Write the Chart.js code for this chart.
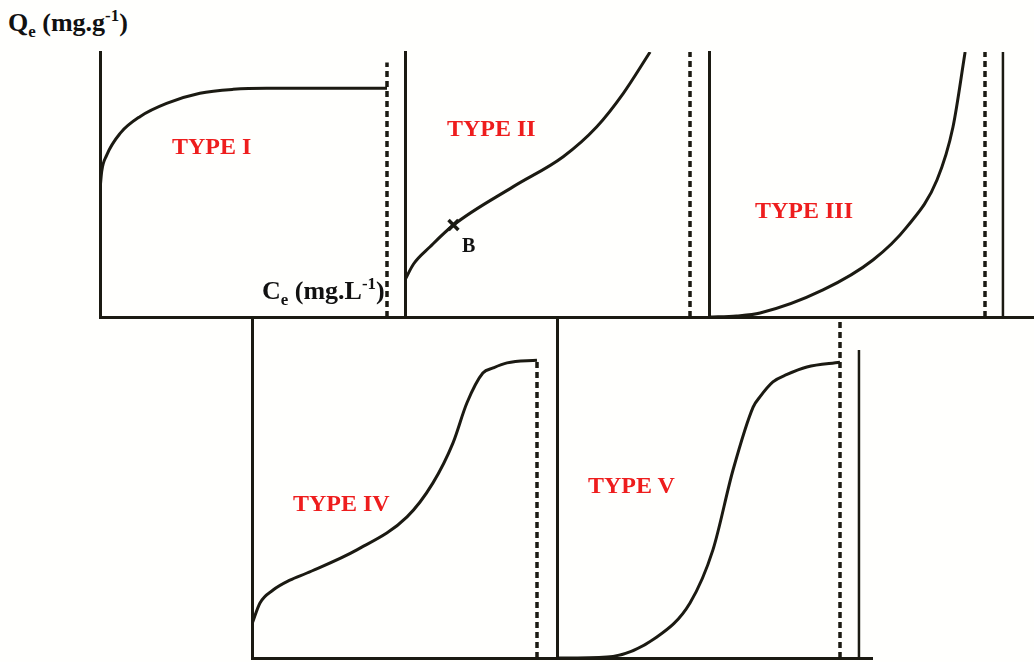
<!DOCTYPE html>
<html>
<head>
<meta charset="utf-8">
<script src="https://cdn.jsdelivr.net/npm/chart.js@4.4.0/dist/chart.umd.min.js"></script>
<style>
  html, body { margin: 0; padding: 0; background: #fff; }
  #stage { position: relative; width: 1034px; height: 662px; overflow: hidden; background: #fffffd; }
  .lbl { position: absolute; font-family: "Liberation Serif", "DejaVu Serif", serif; font-weight: bold; white-space: nowrap; line-height: 1; }
  .type { color: #ee1d1d; font-size: 24px; }
  .axis { color: #111; font-size: 26px; }
  .lbl sub, .lbl sup { font-size: 65%; line-height: 0; }
</style>
</head>
<body>
<div id="stage"></div>
<script>
// Ce scaled so the saturation (dashed) line sits at 1, Qe in % of panel height
// (below the first point each curve runs along the Qe axis itself)
const typeI_ce   = [0, 0.006, 0.023, 0.07, 0.139, 0.232, 0.348, 0.464, 0.58, 1.0];
const typeI_qe   = [48, 55, 61, 69.3, 75.6, 80.6, 84.4, 85.9, 86.3, 86.3];
const typeII_ce  = [0, 0.03, 0.088, 0.17, 0.38, 0.555, 0.673, 0.766, 0.86];
const typeII_qe  = [14, 20, 26.5, 34.7, 49.2, 60.5, 71.8, 84.4, 100];
const typeIII_ce = [0, 0.1, 0.185, 0.413, 0.594, 0.717, 0.826, 0.884, 0.928];
const typeIII_qe = [0, 0.4, 1.5, 10.2, 21.5, 34, 51.7, 71.7, 100];
const typeIV_ce  = [0, 0.028, 0.074, 0.133, 0.193, 0.368, 0.544, 0.635, 0.705, 0.754, 0.81, 0.846, 0.895, 1.0];
const typeIV_qe  = [10, 16.2, 20, 22.9, 25, 31.8, 41.5, 51.5, 63.2, 75, 83.8, 85.3, 86.8, 87.6];
const typeV_ce   = [0, 0.177, 0.353, 0.47, 0.551, 0.622, 0.693, 0.717, 0.763, 0.813, 0.883, 1.0];
const typeV_qe   = [0, 0.3, 6.2, 16.2, 31.8, 55.3, 73.8, 76.8, 81.2, 83.4, 85.6, 87];

// point B on the type II curve
const pointB = { ce: 0.17, qe: 34.7 };

// height of each dashed saturation line, and the extra solid uprights (panel III and V)
const satTop  = [96, 100, 100, 87.6, 100];
const wallCe  = [null, null, 1.065, null, 1.067];
const wallTop = [null, null, 100, null, 90.6];

const INK = '#1b1a12';
const PAD = 5;

// chart area of each panel in the page: left, top, width, height
const panels = [
  { ce: typeI_ce,   qe: typeI_qe,   box: [100, 52, 305, 265], cMax: 305 / 287 },
  { ce: typeII_ce,  qe: typeII_qe,  box: [405, 52, 304, 265], cMax: 304 / 285 },
  { ce: typeIII_ce, qe: typeIII_qe, box: [709, 52, 330, 265], cMax: 330 / 276 },
  { ce: typeIV_ce,  qe: typeIV_qe,  box: [252, 318, 305, 340], cMax: 305 / 285 },
  { ce: typeV_ce,   qe: typeV_qe,   box: [557, 318, 315, 340], cMax: 315 / 283 }
];

const stage = document.getElementById('stage');

function axisOpts(max) {
  return {
    type: 'linear', min: 0, max: max,
    grid: { display: false, drawTicks: false },
    ticks: { display: false },
    border: { display: true, color: INK, width: 3 }
  };
}

panels.forEach((p, i) => {
  const [left, top, w, h] = p.box;
  const cv = document.createElement('canvas');
  cv.width = w + 2 * PAD;
  cv.height = h + 2 * PAD;
  cv.style.cssText = `position:absolute;left:${left - PAD}px;top:${top - PAD}px;width:${w + 2 * PAD}px;height:${h + 2 * PAD}px`;
  stage.appendChild(cv);

  const datasets = [
    {
      data: p.ce.map((c, k) => ({ x: c, y: p.qe[k] })),
      showLine: true, borderColor: INK, borderWidth: 3, pointRadius: 0,
      cubicInterpolationMode: 'monotone'
    },
    {
      data: [{ x: 1, y: 0 }, { x: 1, y: satTop[i] }],
      showLine: true, borderColor: INK, borderWidth: 3.5, borderDash: [6, 4], pointRadius: 0
    }
  ];
  if (wallCe[i] !== null) {
    datasets.push({
      data: [{ x: wallCe[i], y: 0 }, { x: wallCe[i], y: wallTop[i] }],
      showLine: true, borderColor: INK, borderWidth: 2.5, pointRadius: 0
    });
  }
  if (i === 1) {
    datasets.push({
      data: [{ x: pointB.ce, y: pointB.qe }],
      showLine: false, pointStyle: 'crossRot', pointRadius: 7,
      pointBorderWidth: 3.5, pointBorderColor: INK, borderColor: INK
    });
  }

  new Chart(cv, {
    type: 'scatter',
    data: { datasets },
    options: {
      responsive: false,
      animation: false,
      layout: { padding: PAD, autoPadding: false },
      plugins: { legend: { display: false }, tooltip: { enabled: false } },
      scales: { x: axisOpts(p.cMax), y: axisOpts(100) }
    }
  });
});

// texts
const labels = [
  { html: 'Q<sub>e</sub> (mg.g<sup>-1</sup>)', cls: 'axis', left: 8, top: 10 },
  { html: 'C<sub>e</sub> (mg.L<sup>-1</sup>)', cls: 'axis', left: 262, top: 278 },
  { html: 'TYPE I',   cls: 'type', left: 172, top: 134 },
  { html: 'TYPE II',  cls: 'type', left: 447, top: 116 },
  { html: 'TYPE III', cls: 'type', left: 755, top: 198 },
  { html: 'TYPE IV',  cls: 'type', left: 293, top: 491 },
  { html: 'TYPE V',   cls: 'type', left: 588, top: 473 },
  { html: 'B', cls: 'axis', left: 462, top: 235, size: 20 }
];
labels.forEach(l => {
  const d = document.createElement('div');
  d.className = 'lbl ' + l.cls;
  d.innerHTML = l.html;
  d.style.left = l.left + 'px';
  d.style.top = l.top + 'px';
  if (l.size) d.style.fontSize = l.size + 'px';
  stage.appendChild(d);
});
</script>
</body>
</html>
